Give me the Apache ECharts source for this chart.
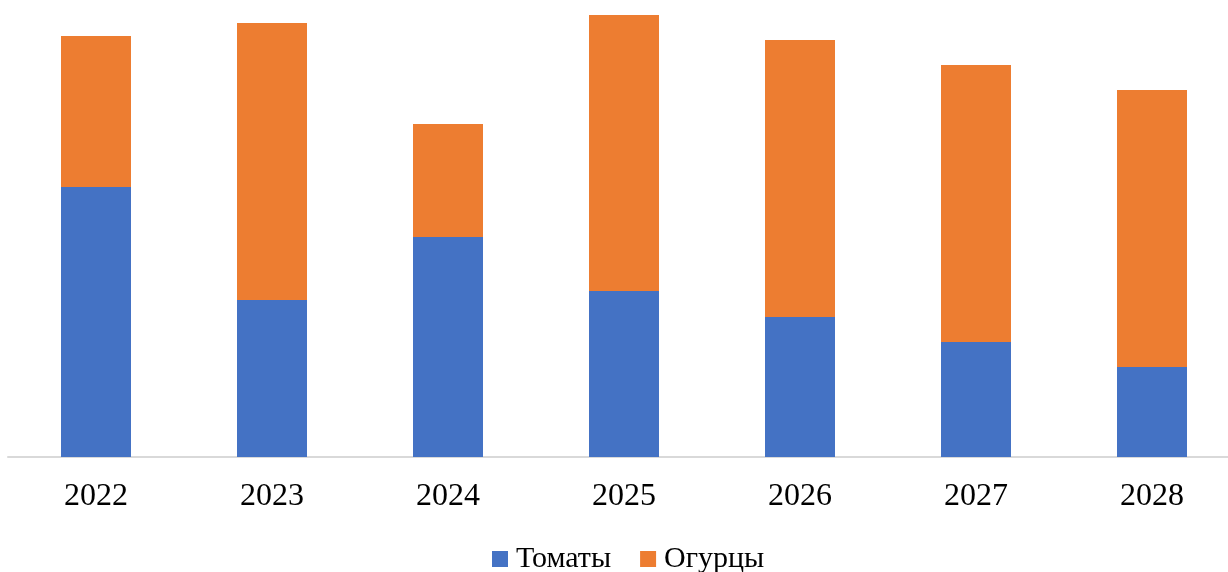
<!DOCTYPE html>
<html>
<head>
<meta charset="utf-8">
<script src="https://cdn.jsdelivr.net/npm/echarts@6/dist/echarts.min.js"></script>
<style>
html, body { margin: 0; padding: 0; background: #fff; overflow: hidden; }
#box1 { width: 1240px; height: 572px; }
</style>
</head>
<body>
<div id="box1"></div>
<script>
var years = ['2022', '2023', '2024', '2025', '2026', '2027', '2028'];
var tomatoes = [27.0, 15.7, 22.0, 16.6, 14.0, 11.5, 9.0];
var cucumbers = [15.1, 27.7, 11.3, 27.6, 27.7, 27.7, 27.7];
var seriesNames = ['Томаты', 'Огурцы'];

var dom = document.getElementById("box1");
var myChart = echarts.init(dom);

// the plot runs a little past the right edge of the picture, like the original
var option = {
    backgroundColor: '#fff',
    animation: false,
    color: ['#4472C4', '#ED7D31'],
    textStyle: { fontFamily: 'Liberation Serif' },
    legend: {
        left: 487,
        top: 539,
        icon: 'rect',
        itemWidth: 16,
        itemHeight: 16,
        itemGap: 29,
        textStyle: { fontFamily: 'Liberation Serif', fontSize: 30, color: '#000', padding: [0, 0, 0, 3] },
        data: seriesNames
    },
    grid: {
        left: 8,
        right: 0,
        top: 0,
        bottom: 115,
        containLabel: false
    },
    xAxis: {
        type: 'category',
        data: years,
        axisLine: { lineStyle: { color: '#d9d9d9', width: 2 } },
        axisTick: { show: false },
        axisLabel: { color: '#000', fontSize: 32, fontFamily: 'Liberation Serif', margin: 24 }
    },
    yAxis: {
        type: 'value',
        min: 0,
        max: 45.7,
        show: false,
        splitLine: { show: false }
    },
    series: [{
        name: seriesNames[0],
        type: 'bar',
        stack: 'total',
        barWidth: 70,
        data: tomatoes
    }, {
        name: seriesNames[1],
        type: 'bar',
        stack: 'total',
        barWidth: 70,
        data: cucumbers
    }]
};
myChart.setOption(option);
</script>
</body>
</html>
